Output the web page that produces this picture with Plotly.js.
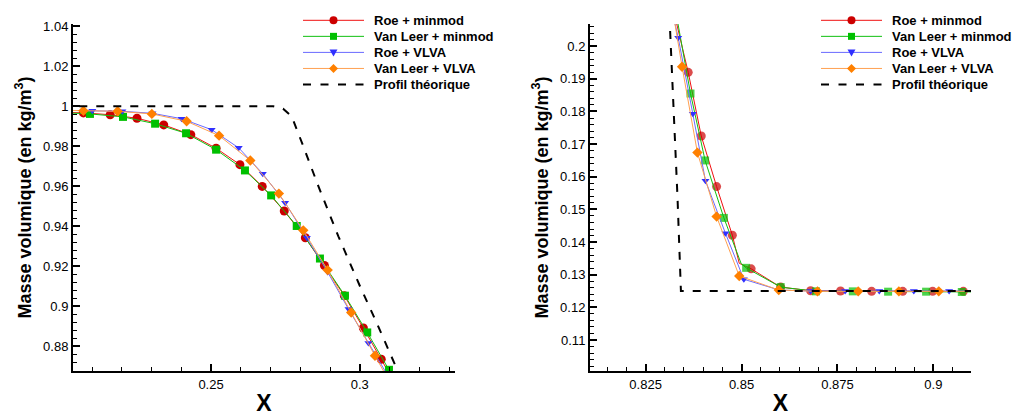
<!DOCTYPE html>
<html>
<head>
<meta charset="utf-8">
<script src="https://cdn.plot.ly/plotly-3.0.1.min.js"></script>
<style>html,body{margin:0;padding:0;background:#fff;}#chart{width:1019px;height:416px;}</style>
</head>
<body>
<div id="chart"></div>
<script>
// ---------- data: left panel (rarefaction zone) ----------
const roeMinmodLX = [0.2000, 0.2071, 0.2161, 0.2251, 0.2341, 0.2432, 0.2517, 0.2597, 0.2672, 0.2746, 0.2817, 0.2881, 0.2948, 0.3012, 0.3072, 0.3131];
const roeMinmodLY = [0.9970, 0.9967, 0.9958, 0.9940, 0.9907, 0.9858, 0.9790, 0.9708, 0.9599, 0.9476, 0.9342, 0.9203, 0.9052, 0.8890, 0.8734, 0.8579];
const vanLeerMinmodLX = [0.2000, 0.2093, 0.2204, 0.2312, 0.2416, 0.2517, 0.2614, 0.2702, 0.2788, 0.2866, 0.2950, 0.3025, 0.3098, 0.3170];
const vanLeerMinmodLY = [0.9968, 0.9962, 0.9947, 0.9913, 0.9865, 0.9783, 0.9679, 0.9554, 0.9401, 0.9238, 0.9052, 0.8868, 0.8681, 0.8494];
const roeVlvaLX = [0.2000, 0.2101, 0.2202, 0.2303, 0.2401, 0.2502, 0.2593, 0.2674, 0.2749, 0.2822, 0.2892, 0.2962, 0.3029, 0.3096];
const roeVlvaLY = [0.9980, 0.9978, 0.9975, 0.9965, 0.9938, 0.9883, 0.9792, 0.9662, 0.9517, 0.9342, 0.9170, 0.8985, 0.8815, 0.8647];
const vanLeerVlvaLX = [0.2000, 0.2071, 0.2186, 0.2301, 0.2418, 0.2527, 0.2632, 0.2728, 0.2810, 0.2892, 0.2971, 0.3051, 0.3132];
const vanLeerVlvaLY = [0.9980, 0.9978, 0.9975, 0.9962, 0.9925, 0.9853, 0.9729, 0.9563, 0.9379, 0.9180, 0.8968, 0.8751, 0.8534];
const theoryLX = [0.2000, 0.2709, 0.2742, 0.2771, 0.2810, 0.2861, 0.2928, 0.3001, 0.3057, 0.3124, 0.3135];
const theoryLY = [1.0000, 1.0000, 0.9988, 0.9950, 0.9800, 0.9599, 0.9349, 0.9098, 0.8915, 0.8689, 0.8650];

// ---------- data: right panel (contact / shock zone) ----------
const roeMinmodRX = [0.8316, 0.8361, 0.8395, 0.8435, 0.8476, 0.8494, 0.8525, 0.8602, 0.8680, 0.8758, 0.8839, 0.8920, 0.8998, 0.9078, 0.9130];
const roeMinmodRY = [0.2143, 0.1920, 0.1725, 0.1570, 0.1421, 0.1335, 0.1318, 0.1262, 0.1251, 0.1250, 0.1249, 0.1249, 0.1249, 0.1249, 0.1249];
const roeMinmodRMarked = [1, 1, 1, 1, 1, 0, 1, 1, 1, 1, 1, 1, 1, 1, 1];
const vanLeerMinmodRX = [0.8323, 0.8367, 0.8405, 0.8454, 0.8499, 0.8512, 0.8602, 0.8694, 0.8790, 0.8882, 0.8981, 0.9074, 0.9130];
const vanLeerMinmodRY = [0.2143, 0.1855, 0.1650, 0.1474, 0.1334, 0.1321, 0.1262, 0.1249, 0.1249, 0.1248, 0.1248, 0.1247, 0.1247];
const vanLeerMinmodRMarked = [1, 1, 1, 1, 0, 1, 1, 1, 1, 1, 1, 1, 1];
const roeVlvaRX = [0.8312, 0.8335, 0.8373, 0.8406, 0.8458, 0.8506, 0.8598, 0.8680, 0.8770, 0.8859, 0.8949, 0.9041, 0.9130];
const roeVlvaRY = [0.2143, 0.2026, 0.1793, 0.1588, 0.1427, 0.1286, 0.1253, 0.1250, 0.1250, 0.1250, 0.1250, 0.1250, 0.1250];
const vanLeerVlvaRX = [0.8316, 0.8345, 0.8385, 0.8435, 0.8494, 0.8597, 0.8698, 0.8804, 0.8910, 0.9014, 0.9130];
const vanLeerVlvaRY = [0.2143, 0.1937, 0.1674, 0.1478, 0.1296, 0.1253, 0.1249, 0.1249, 0.1249, 0.1249, 0.1249];
const theoryRX = [0.8305, 0.8313, 0.8333, 0.8342, 0.9130];
const theoryRY = [0.2150, 0.2070, 0.1540, 0.1250, 0.1250];

const seriesNames = ['Roe + minmod', 'Van Leer + minmod', 'Roe + VLVA', 'Van Leer + VLVA', 'Profil théorique'];
const xTitle = 'X';
const yTitle = 'Masse volumique (en kg/m<sup>3</sup>)';

// ---------- styles ----------
const FONT = 'Liberation Sans, Arial, Helvetica, sans-serif';
const W = 1019, H = 416;
const M = {l: 73, r: 48, t: 24, b: 45};
const styles = [
  {line: '#f01010', marker: '#cc0000', symbol: 'circle', size: 9},
  {line: '#10c010', marker: '#00c000', symbol: 'square', size: 8},
  {line: '#6a6aff', marker: '#3030ff', symbol: 'triangle-down', size: 7},
  {line: '#ffa050', marker: '#ff8000', symbol: 'diamond', size: 8}
];

function series(i, x, y, xa, ya, marked) {
  const s = styles[i];
  const size = marked ? marked.map(m => m ? s.size : 0) : s.size;
  return {
    type: 'scatter', mode: 'lines+markers', name: seriesNames[i],
    x: x, y: y, xaxis: xa, yaxis: ya, showlegend: false,
    line: {color: s.line, width: 1},
    marker: {color: s.marker, symbol: s.symbol, size: size, line: {width: 0}},
    cliponaxis: true
  };
}
function theory(x, y, xa, ya) {
  return {
    type: 'scatter', mode: 'lines', name: seriesNames[4],
    x: x, y: y, xaxis: xa, yaxis: ya, showlegend: false,
    line: {color: '#000000', width: 2, dash: '8px,9px'}
  };
}

const traces = [
  series(0, roeMinmodLX, roeMinmodLY, 'x', 'y'),
  series(1, vanLeerMinmodLX, vanLeerMinmodLY, 'x', 'y'),
  series(2, roeVlvaLX, roeVlvaLY, 'x', 'y'),
  series(3, vanLeerVlvaLX, vanLeerVlvaLY, 'x', 'y'),
  theory(theoryLX, theoryLY, 'x', 'y'),
  series(0, roeMinmodRX, roeMinmodRY, 'x2', 'y2', roeMinmodRMarked),
  series(1, vanLeerMinmodRX, vanLeerMinmodRY, 'x2', 'y2', vanLeerMinmodRMarked),
  series(2, roeVlvaRX, roeVlvaRY, 'x2', 'y2'),
  series(3, vanLeerVlvaRX, vanLeerVlvaRY, 'x2', 'y2'),
  theory(theoryRX, theoryRY, 'x2', 'y2')
];

function axis(range, dtick, minorDtick, domain, title, standoff, anchor) {
  return {
    range: range, domain: domain, anchor: anchor, dtick: dtick, tick0: 0,
    ticks: 'inside', ticklen: 7, tickwidth: 2, tickcolor: '#000',
    minor: {ticks: 'inside', ticklen: 4, tickwidth: 1, tickcolor: '#000', dtick: minorDtick, tick0: 0, showgrid: false},
    showline: true, linewidth: 2, linecolor: '#000', mirror: false,
    showgrid: false, zeroline: false,
    tickfont: {family: FONT, size: 13, color: '#000'},
    title: {text: title, standoff: standoff, font: {family: FONT, size: title === 'X' ? 23 : 18, color: '#000', weight: 'bold'}},
    automargin: false
  };
}

// ---------- legend (drawn in paper space, one per panel) ----------
const PW = W - M.l - M.r, PH = H - M.t - M.b;
const px2x = p => (p - M.l) / PW;
const py2y = p => (H - M.b - p) / PH;
const legendStarts = [303, 821];
const legendRow0 = 20.3, legendStep = 16.05, legendLine = 61, legendTextGap = 8;
const shapes = [], annotations = [];
const markerPaths = {
  'square': 'M-3.5,-3.5 L3.5,-3.5 L3.5,3.5 L-3.5,3.5 Z',
  'triangle-down': 'M-4,3 L4,3 L0,-4 Z',
  'diamond': 'M0,-4.5 L4.5,0 L0,4.5 L-4.5,0 Z'
};
legendStarts.forEach(x0 => {
  seriesNames.forEach((name, i) => {
    const cy = legendRow0 + legendStep * i;
    const isTheory = i === 4;
    shapes.push({
      type: 'line', xref: 'paper', yref: 'paper',
      x0: px2x(x0), x1: px2x(x0 + legendLine), y0: py2y(cy), y1: py2y(cy),
      line: isTheory ? {color: '#000', width: 2, dash: '8px,9.5px'} : {color: styles[i].line, width: 1}
    });
    if (!isTheory) {
      const s = styles[i];
      const mx = px2x(x0 + legendLine / 2), my = py2y(cy);
      if (s.symbol === 'circle') {
        shapes.push({type: 'circle', xref: 'paper', yref: 'paper', xsizemode: 'pixel', ysizemode: 'pixel',
          xanchor: mx, yanchor: my, x0: -4, x1: 4, y0: -4, y1: 4,
          fillcolor: s.marker, line: {width: 0}});
      } else {
        shapes.push({type: 'path', xref: 'paper', yref: 'paper', xsizemode: 'pixel', ysizemode: 'pixel',
          xanchor: mx, yanchor: my, path: markerPaths[s.symbol],
          fillcolor: s.marker, line: {width: 0}});
      }
    }
    annotations.push({
      xref: 'paper', yref: 'paper', x: px2x(x0 + legendLine + legendTextGap), y: py2y(cy),
      xanchor: 'left', yanchor: 'middle', showarrow: false, text: name,
      font: {family: FONT, size: 13, color: '#000', weight: 'bold'}
    });
  });
});

const layout = {
  width: W, height: H,
  margin: M,
  paper_bgcolor: '#fff', plot_bgcolor: '#fff',
  showlegend: false,
  xaxis: axis([0.2036, 0.3320], 0.05, 0.01, [0, 0.4254], xTitle, 10, 'y'),
  yaxis: axis([0.8675, 1.0412], 0.02, 0.004, [0, 1], yTitle, 7, 'x'),
  xaxis2: axis([0.8105, 0.9098], 0.025, 0.005, [0.5757, 1], xTitle, 10, 'y2'),
  yaxis2: axis([0.1005, 0.2068], 0.01, 0.002, [0, 1], yTitle, 7, 'x2'),
  shapes: shapes,
  annotations: annotations
};

Plotly.newPlot('chart', traces, layout, {staticPlot: true, displayModeBar: false});
</script>
</body>
</html>
